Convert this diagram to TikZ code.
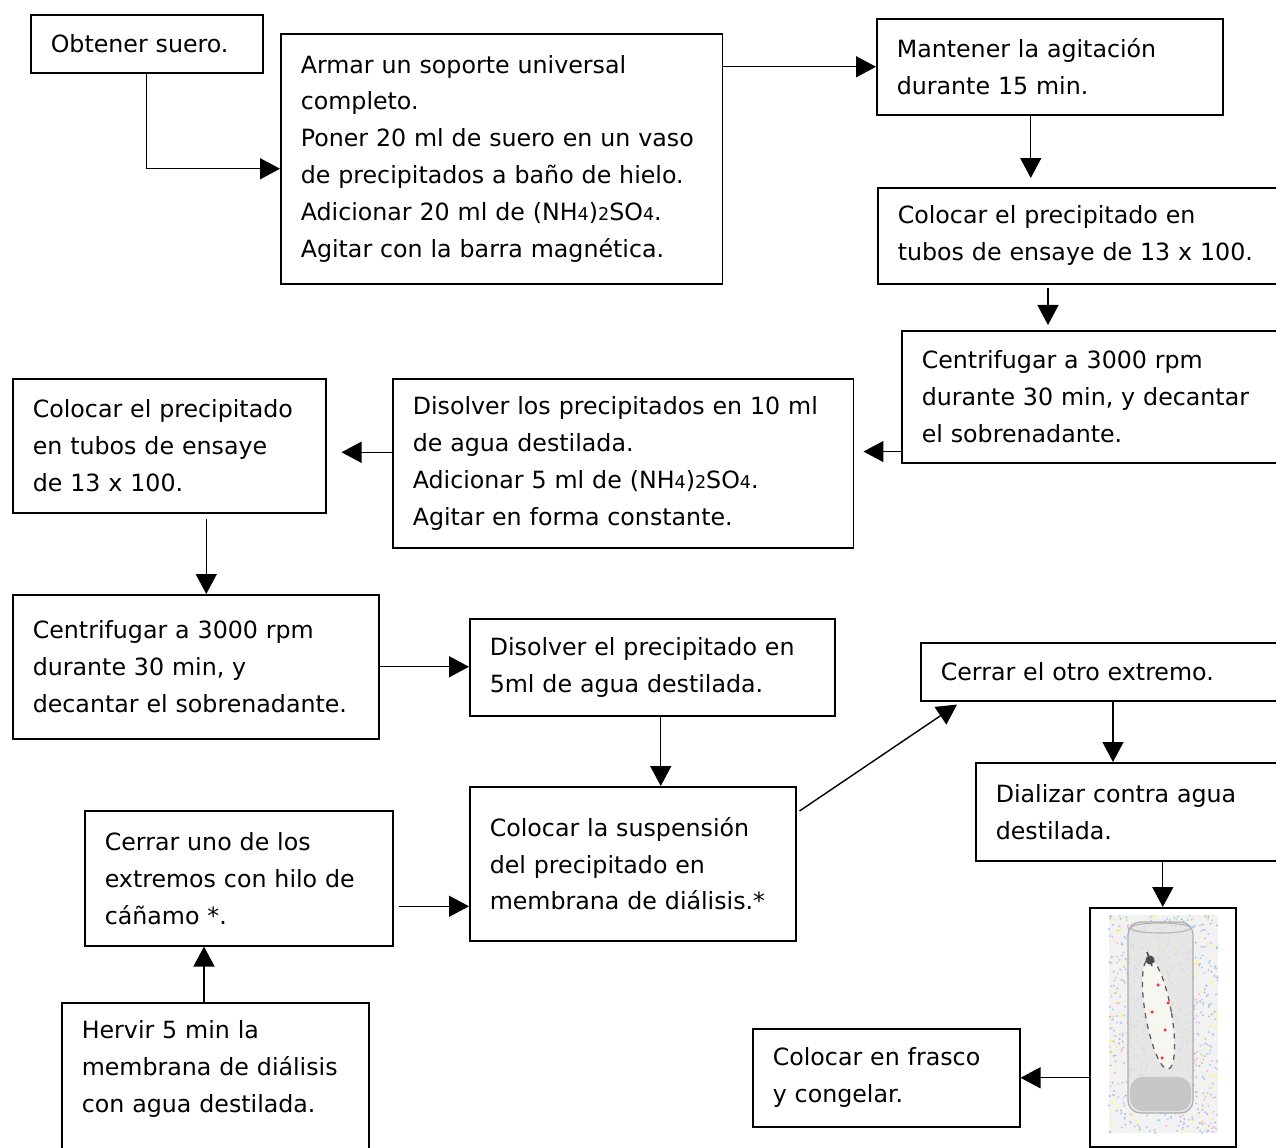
\documentclass[tikz,border=0pt]{standalone}
\usepackage{fontspec}
\setmainfont{DejaVu Sans}
\usetikzlibrary{arrows.meta, calc}

\newcommand{\chico}[1]{{\fontsize{10}{12}\selectfont #1}}

\begin{document}
\begin{tikzpicture}[
    x=0.02cm, y=-0.02cm,
    paso/.style={draw, line width=0.9pt, anchor=north west, inner xsep=0.4cm, inner ysep=0pt,
                 align=left, font=\fontsize{13.5}{21}\selectfont},
    flecha/.style={-{Triangle[length=0.4cm, width=0.42cm]}, line width=0.8pt}
]
\useasboundingbox (0,0) rectangle (1276,1148);
\clip (0,0) rectangle (1276,1148);

% ---- Top row ----
\node[paso, text width=3.84cm, minimum height=1.16cm] (obtener) at (30,14) {Obtener suero.};
\node[paso, text width=8.04cm, minimum height=5cm] (armar) at (280,33)
    {Armar un soporte universal\\completo.\\Poner 20 ml de suero en un vaso\\de precipitados a baño de hielo.\\
     Adicionar 20 ml de (NH\chico{4})\chico{2}SO\chico{4}.\\Agitar con la barra magnética.};
\node[paso, text width=6.12cm, minimum height=1.92cm] (mantener) at (876,18)
    {Mantener la agitación\\durante 15 min.};

% ---- Right column ----
\node[paso, text width=7.6cm, minimum height=1.92cm] (colocar) at (877,187)
    {Colocar el precipitado en\\tubos de ensaye de 13 x 100.};
\node[paso, text width=7.2cm, minimum height=2.64cm] (centrif) at (901,330)
    {Centrifugar a 3000 rpm\\durante 30 min, y decantar\\el sobrenadante.};

% ---- Second row, right to left ----
\node[paso, text width=8.42cm, minimum height=3.38cm] (disolver) at (392,378)
    {Disolver los precipitados en 10 ml\\de agua destilada.\\
     Adicionar 5 ml de (NH\chico{4})\chico{2}SO\chico{4}.\\Agitar en forma constante.};
\node[paso, text width=5.46cm, minimum height=2.68cm] (colocar2) at (12,378)
    {Colocar el precipitado\\en tubos de ensaye\\de 13 x 100.};

% ---- Third row ----
\node[paso, text width=6.52cm, minimum height=2.88cm] (centrif2) at (12,594)
    {Centrifugar a 3000 rpm\\durante 30 min, y\\decantar el sobrenadante.};
\node[paso, text width=6.5cm, minimum height=1.94cm] (disolver2) at (469,618)
    {Disolver el precipitado en\\5ml de agua destilada.};
\node[paso, text width=5.72cm, minimum height=3.08cm] (susp) at (469,786)
    {Colocar la suspensión\\del precipitado en\\membrana de diálisis.*};
\node[paso, text width=5.36cm, minimum height=2.7cm] (cerrar1) at (84,810)
    {Cerrar uno de los\\extremos con hilo de\\cáñamo *.};
\node[paso, text width=5.34cm, inner ysep=0.36cm, text depth=3.2cm] (hervir) at (61,1002)
    {Hervir 5 min la\\membrana de diálisis\\con agua destilada.};

% ---- Dialysis column ----
\node[paso, text width=6.8cm, minimum height=1.16cm] (cerrar2) at (920,642)
    {Cerrar el otro extremo.};
\node[paso, text width=5.8cm, minimum height=1.96cm] (dializar) at (975,762)
    {Dializar contra agua\\destilada.};
\node[draw, line width=0.9pt, anchor=north west, inner sep=0pt,
      minimum width=2.92cm, minimum height=4.78cm] (tubo) at (1089,907) {};
\node[paso, text width=4.54cm, minimum height=1.96cm] (frasco) at (752,1028)
    {Colocar en frasco\\y congelar.};

% ---- Dialysis tube sketch ----
\fill[black!5] (1109,915) rectangle (1218,1133);
\pgfmathsetseed{11}
\foreach \col in {gray!55, cyan!45, yellow!60, magenta!30, blue!25} {
  \foreach \k in {1,...,170} {
    \pgfmathsetmacro{\rx}{1109+rnd*109}
    \pgfmathsetmacro{\ry}{915+rnd*218}
    \fill[\col] (\rx,\ry) circle[radius=0.022cm];
  }
}
\draw[gray!65, fill=gray!22, fill opacity=0.8, line width=0.7pt, rounded corners=0.25cm]
    (1128,922) rectangle (1193,1113);
\fill[gray!45, rounded corners=0.25cm] (1130,1077) -- (1191,1077) -- (1191,1111) -- (1130,1111) -- cycle;
\draw[gray!60, line width=0.6pt] (1160.5,928) ellipse [x radius=0.6cm, y radius=0.1cm];
\draw[black!65, dashed, fill=yellow!25!gray!10, line width=0.7pt, rotate around={10:(1158.5,1014)}]
    (1158.5,1014) ellipse [x radius=0.26cm, y radius=1.12cm];
\fill[black!70] (1150,960) circle[radius=0.09cm];
\draw[black!70, line width=0.9pt] (1147,952) -- (1152,966);
\foreach \px/\py in {1158/985, 1168/1003, 1152/1012, 1165/1030, 1162/1058} {
  \fill[red!80] (\px,\py) circle[radius=0.035cm];
}

% ---- Connectors ----
\coordinate (c1) at ($(mantener.south)+(-19,0)$);
\coordinate (d1) at ($(colocar.south west)+(171,3)$);
\coordinate (e1) at ($(centrif.south west)+(0,-12)$);
\coordinate (f1) at ($(disolver.west)+(0,-11)$);
\coordinate (g1) at ($(colocar2.south)+(37,5)$);
\coordinate (i1) at ($(disolver2.south)+(8.5,0)$);
\coordinate (k1) at ($(cerrar1.east)+(5,28)$);
\coordinate (l1) at ($(hervir.north west)+(143,0)$);
\coordinate (m1) at ($(cerrar2.south west)+(193,0)$);

\draw[flecha] (obtener.south) |- ($(armar.west)+(0,10)$);
\draw[flecha] (armar.east |- mantener.west) -- (mantener.west);
\draw[flecha, shorten >=0.18cm] (c1) -- (c1 |- colocar.north);
\draw[flecha, shorten >=0.1cm] (d1) -- (d1 |- centrif.north);
\draw[flecha, shorten >=0.18cm] (e1) -- (e1 -| disolver.east);
\draw[flecha, shorten >=0.3cm] (f1) -- (f1 -| colocar2.east);
\draw[flecha] (g1) -- (g1 |- centrif2.north);
\draw[flecha] (centrif2.east) -- (centrif2.east -| disolver2.west);
\draw[flecha] (i1) -- (i1 |- susp.north);
\draw[flecha] (k1) -- (k1 -| susp.west);
\draw[flecha] (l1) -- (l1 |- cerrar1.south);
\draw[flecha] ($(susp.north east)+(3,25)$) -- ($(cerrar2.south west)+(37,3)$);
\draw[flecha] (m1) -- (m1 |- dializar.north);
\draw[flecha] (tubo.north |- dializar.south) -- (tubo.north);
\draw[flecha] (tubo.west |- frasco.east) -- (frasco.east);

\end{tikzpicture}
\end{document}
